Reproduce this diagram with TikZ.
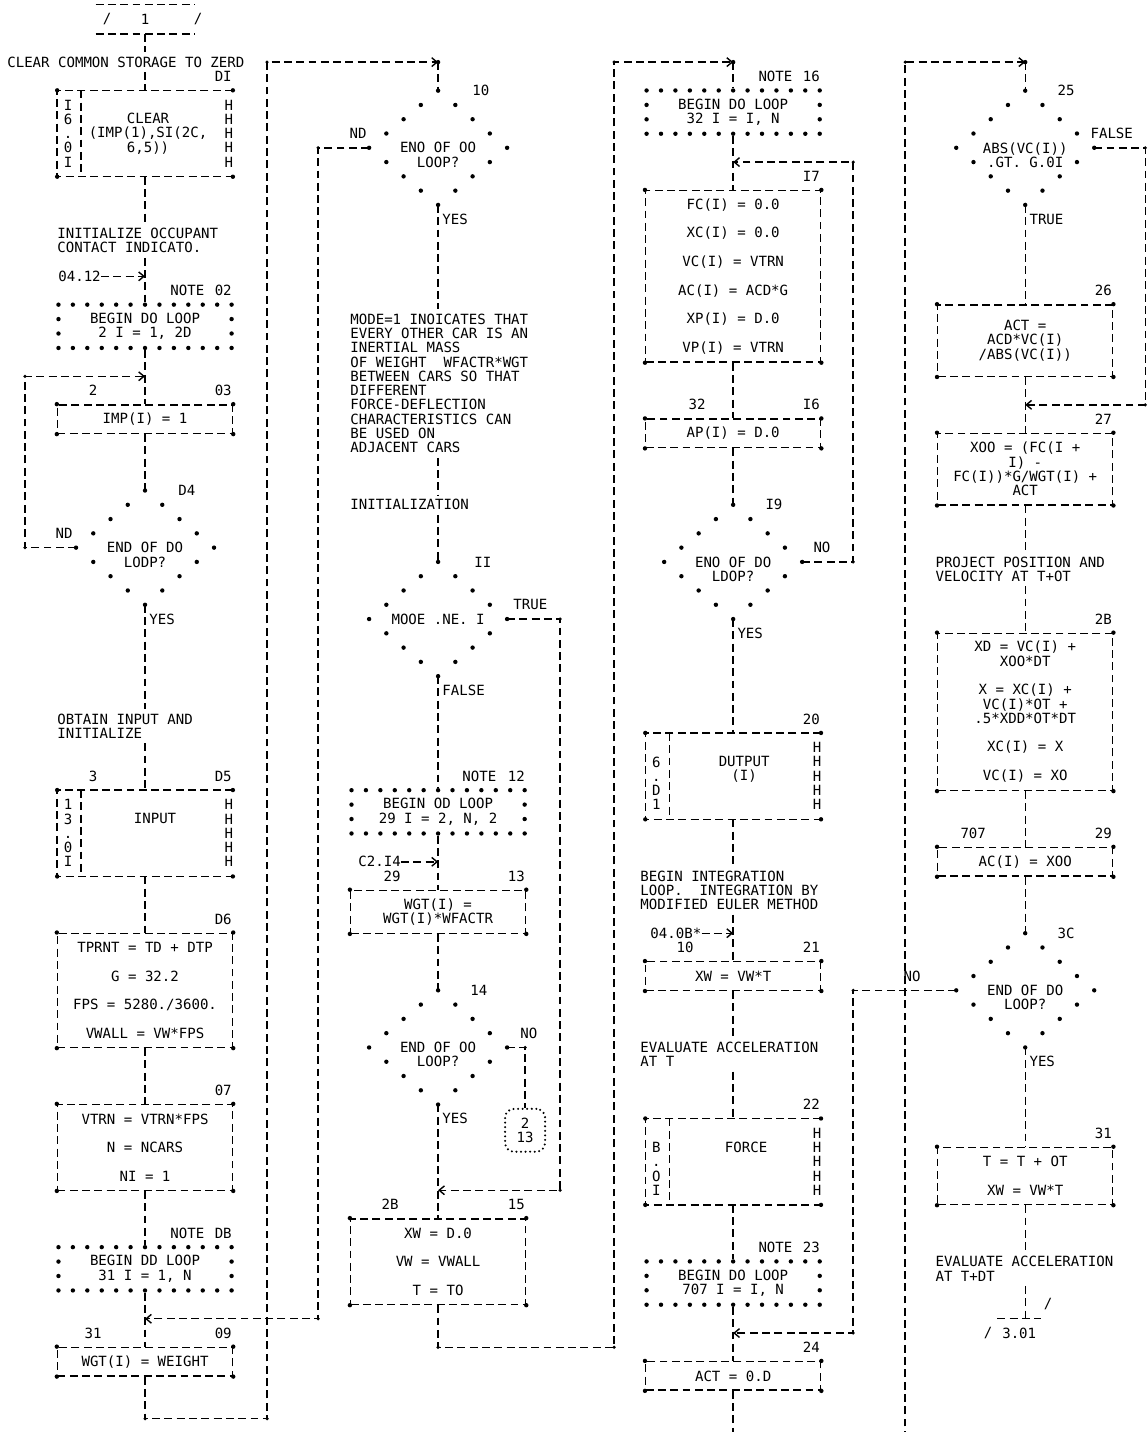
\documentclass[tikz,border=0pt]{standalone}
\usepackage{fontspec}
\setmonofont{DejaVu Sans Mono}
\usetikzlibrary{arrows.meta,shapes.geometric}
\frenchspacing

\begin{document}
\begin{tikzpicture}[x=0.02cm,y=-0.2856cm,>={Straight Barb[length=3pt,width=5pt]},
  font=\ttfamily\fontsize{8}{8.13}\selectfont,
  conn/.style={line width=0.8pt,dash pattern=on 4.5pt off 2.5pt},
  tall/.style={minimum height=#1*0.2856cm},
  box/.style={draw,conn,minimum width=3.5cm,inner sep=0pt,align=center},
  proc/.style={minimum width=3.5cm,inner sep=0pt},
  ptext/.style={align=center,inner sep=0pt},
  note/.style={draw,line width=2.5pt,line cap=round,dash pattern=on 0pt off 0.2886cm,minimum width=3.463cm,minimum height=0.866cm,inner sep=0pt,align=center},
  dec/.style={diamond,draw,line width=2.5pt,line cap=round,dash pattern=on 0pt off 0.4479cm,minimum width=2.76cm,minimum height=2.285cm,inner sep=0pt,outer sep=0pt},
  dtext/.style={align=center,inner sep=0pt,yshift=-0.1428cm},
  annot/.style={align=left,inner xsep=0pt,inner ysep=2.5pt,anchor=west},
  lab/.style={inner sep=0pt}]
\path[use as bounding box] (0,-0.35) rectangle (1147,99.93);
% column 1
\node[lab,minimum width=1.96cm,tall=2] (t1) at (145,1) {1};
\node[lab] (s1) at (107,1) {/};
\node[lab] (s2) at (198,1) {/};
\node[annot] (c1) at (7,4) {CLEAR COMMON STORAGE TO ZERD};
\node[lab,anchor=east] (l01) at (232,5) {DI};
\node[proc,tall=6,label={[ptext,xshift=0.06cm]center:CLEAR\\(IMP(1),SI(2C,\\6,5))}] (p01) at (145,9) {};
\node[annot] (i1) at (57,16.5) {INITIALIZE OCCUPANT\\CONTACT INDICATO.};
\node[annot] (e1) at (58,19) {04.12};
\node[lab,anchor=west] (m02) at (170,20) {NOTE};
\node[lab,anchor=east] (l02) at (232,20) {02};
\node[note] (n02) at (145,22.5) {BEGIN DO LOOP\\2 I = 1, 2D};
\node[lab] (m03) at (93,27) {2};
\node[lab,anchor=east] (l03) at (232,27) {03};
\node[box,tall=2] (b03) at (145,29) {IMP(I) = 1};
\node[dec,label={[dtext]center:END OF DO\\LODP?}] (d4) at (145,38) {};
\node[lab,anchor=west] (l04) at (178,34) {D4};
\node[lab] (y04n) at (64,37) {ND};
\node[lab,anchor=west] (y04) at (149,43) {YES};
\node[annot] (o1) at (57,50.5) {OBTAIN INPUT AND\\INITIALIZE};
\node[lab] (m05) at (93,54) {3};
\node[lab,anchor=east] (l05) at (232,54) {D5};
\node[proc,tall=6,label={[ptext,xshift=0.2cm,yshift=0.2856cm]center:INPUT}] (p05) at (145,58) {};
\node[lab,anchor=east] (l06) at (232,64) {D6};
\node[box,tall=8] (b06) at (145,69) {TPRNT = TD + DTP\\~\\G = 32.2\\~\\FPS = 5280./3600.\\~\\VWALL = VW*FPS};
\node[lab,anchor=east] (l07) at (232,76) {07};
\node[box,tall=6] (b07) at (145,80) {VTRN = VTRN*FPS\\~\\N = NCARS\\~\\NI = 1};
\node[lab,anchor=west] (m08) at (170,86) {NOTE};
\node[lab,anchor=east] (l08) at (232,86) {DB};
\node[note] (n08) at (145,88.5) {BEGIN DD LOOP\\31 I = 1, N};
\node[lab] (m09) at (93,93) {31};
\node[lab,anchor=east] (l09) at (232,93) {09};
\node[box,tall=2] (b09) at (145,95) {WGT(I) = WEIGHT};
% column 2
\node[dec,label={[dtext]center:ENO OF OO\\LOOP?}] (d10) at (438,10) {};
\node[lab,anchor=west] (l10) at (472,6) {10};
\node[lab] (y10n) at (358,9) {ND};
\node[lab,anchor=west] (y10) at (442,15) {YES};
\node[annot] (m1) at (350,26.5) {MODE=1 INOICATES THAT\\EVERY OTHER CAR IS AN\\INERTIAL MASS\\OF WEIGHT~~WFACTR*WGT\\BETWEEN CARS SO THAT\\DIFFERENT\\FORCE-DEFLECTION\\CHARACTERISTICS CAN\\BE USED ON\\ADJACENT CARS};
\node[annot] (m2) at (350,35) {INITIALIZATION};
\node[dec,label={[ptext]center:MOOE .NE. I}] (d11) at (438,43) {};
\node[lab,anchor=west] (l11) at (474,39) {II};
\node[lab,anchor=west] (y11t) at (513,42) {TRUE};
\node[lab,anchor=west] (y11f) at (442,48) {FALSE};
\node[lab,anchor=west] (m12) at (462,54) {NOTE};
\node[lab,anchor=east] (l12) at (525,54) {12};
\node[note] (n12) at (438,56.5) {BEGIN OD LOOP\\29 I = 2, N, 2};
\node[annot] (e2) at (358,60) {C2.I4};
\node[lab] (m13) at (392,61) {29};
\node[lab,anchor=east] (l13) at (525,61) {13};
\node[box,tall=3] (b13) at (438,63.5) {WGT(I) =\\WGT(I)*WFACTR};
\node[dec,label={[dtext]center:END OF OO\\LOOP?}] (d14) at (438,73) {};
\node[lab,anchor=west] (l14) at (470,69) {14};
\node[lab,anchor=west] (y14n) at (520,72) {NO};
\node[lab,anchor=west] (y14) at (442,78) {YES};
\node[draw,line width=1.3pt,line cap=round,dash pattern=on 0pt off 2.6pt,rounded corners=5pt,minimum width=0.8cm,minimum height=0.857cm,inner sep=0pt,align=center] (c213) at (525,78.8) {2\\13};
\node[lab] (m15) at (390,84) {2B};
\node[lab,anchor=east] (l15) at (525,84) {15};
\node[box,tall=6] (b15) at (438,88) {XW = D.0\\~\\VW = VWALL\\~\\T = TO};
% column 3
\node[lab,anchor=west] (m16) at (758,5) {NOTE};
\node[lab,anchor=east] (l16) at (820,5) {16};
\node[note] (n16) at (733,7.5) {BEGIN DO LOOP\\32 I = I, N};
\node[lab,anchor=east] (l17) at (820,12) {I7};
\node[box,tall=12] (b17) at (733,19) {FC(I) = 0.0\\~\\XC(I) = 0.0\\~\\VC(I) = VTRN\\~\\AC(I) = ACD*G\\~\\XP(I) = D.0\\~\\VP(I) = VTRN};
\node[lab] (m18) at (697,28) {32};
\node[lab,anchor=east] (l18) at (820,28) {I6};
\node[box,tall=2] (b16) at (733,30) {AP(I) = D.0};
\node[dec,label={[dtext]center:ENO OF DO\\LDOP?}] (d19) at (733,39) {};
\node[lab,anchor=west] (l19) at (765,35) {I9};
\node[lab,anchor=west] (y19n) at (813,38) {NO};
\node[lab,anchor=west] (y19) at (737,44) {YES};
\node[lab,anchor=east] (l20) at (820,50) {20};
\node[proc,tall=6,label={[ptext,xshift=0.22cm,yshift=0.1428cm]center:DUTPUT\\(I)}] (p20) at (733,54) {};
\node[annot] (a3) at (640,62) {BEGIN INTEGRATION\\LOOP.~~INTEGRATION BY\\MODIFIED EULER METHOD};
\node[annot] (e3) at (650,65) {04.0B*};
\node[lab] (m21) at (685,66) {10};
\node[lab,anchor=east] (l21) at (820,66) {21};
\node[box,tall=2] (b21) at (733,68) {XW = VW*T};
\node[annot] (a4) at (640,73.5) {EVALUATE ACCELERATION\\AT T};
\node[lab,anchor=east] (l22) at (820,77) {22};
\node[proc,tall=6,label={[ptext,xshift=0.26cm,yshift=0.2856cm]center:FORCE}] (p22) at (733,81) {};
\node[lab,anchor=west] (m23) at (758,87) {NOTE};
\node[lab,anchor=east] (l23) at (820,87) {23};
\node[note] (n23) at (733,89.5) {BEGIN DO LOOP\\707 I = I, N};
\node[lab,anchor=east] (l24) at (820,94) {24};
\node[box,tall=2] (b24) at (733,96) {ACT = 0.D};
% column 4
\node[dec,label={[dtext]center:ABS(VC(I))\\.GT. G.0I}] (d25) at (1025,10) {};
\node[lab,anchor=west] (l25) at (1057,6) {25};
\node[lab,anchor=west] (y25f) at (1090,9) {FALSE};
\node[lab,anchor=west] (y25) at (1029,15) {TRUE};
\node[lab,anchor=east] (l26) at (1112,20) {26};
\node[box,tall=5] (b26) at (1025,23.5) {ACT =\\ACD*VC(I)\\/ABS(VC(I))};
\node[lab,anchor=east] (l27) at (1112,29) {27};
\node[box,tall=5] (b27) at (1025,32.5) {XOO = (FC(I +\\I) -\\FC(I))*G/WGT(I) +\\ACT};
\node[annot] (a5) at (935,39.5) {PROJECT POSITION AND\\VELOCITY AT T+OT};
\node[lab,anchor=east] (l28) at (1112,43) {2B};
\node[box,tall=11] (b28) at (1025,49.5) {XD = VC(I) +\\XOO*DT\\~\\X = XC(I) +\\VC(I)*OT +\\.5*XDD*OT*DT\\~\\XC(I) = X\\~\\VC(I) = XO};
\node[lab] (m29) at (973,58) {707};
\node[lab,anchor=east] (l29) at (1112,58) {29};
\node[box,tall=2] (b29) at (1025,60) {AC(I) = XOO};
\node[dec,label={[dtext]center:END OF DO\\LOOP?}] (d30) at (1025,69) {};
\node[lab,anchor=west] (l30) at (1057,65) {3C};
\node[lab,anchor=west] (y30n) at (903,68) {NO};
\node[lab,anchor=west] (y30) at (1029,74) {YES};
\node[lab,anchor=east] (l31) at (1112,79) {31};
\node[box,tall=4] (b31) at (1025,82) {T = T + OT\\~\\XW = VW*T};
\node[annot] (a6) at (935,88.5) {EVALUATE ACCELERATION\\AT T+DT};
\node[lab,minimum width=0.86cm,tall=2] (t301) at (1019,93) {3.01};
\node[lab] (s3) at (988,93) {/};
\node[lab] (s4) at (1048,91) {/};
% box borders
\draw[conn] (t1.north west) -- (t1.north east) (t1.south west) -- (t1.south east);
\draw[conn] (t301.north west) -- (t301.north east);
\foreach \p/\s in {p01/{I\\6\\.\\0\\I},p05/{1\\3\\.\\0\\I},p20/{\phantom{6}\\6\\.\\D\\1},p22/{\phantom{B}\\B\\.\\O\\I}}{
  \draw[conn] (\p.north east) -- (\p.north west) -- (\p.south west) -- (\p.south east);
  \draw[conn] ([xshift=0.48cm]\p.north west) -- ([xshift=0.48cm]\p.south west);
  \node[ptext] (\p-l) at ([xshift=0.22cm]\p.west) {\s};
  \node[ptext] (\p-h) at ([xshift=-0.08cm]\p.east) {H\\H\\H\\H\\H};
}
\foreach \b in {p01,b03,p05,b06,b07,b09,b13,b15,b17,b16,p20,b21,p22,b24,b26,b27,b28,b29,b31}
  \foreach \a in {north west,north east,south west,south east}
    \fill (\b.\a) circle (1.25pt);
% flow, column 1
\draw[conn] (t1.south) -- (t1.south |- c1.north);
\draw[conn] (c1.south -| t1.south) -- (p01.north);
\draw[conn] (p01.south) -- (p01.south |- i1.north);
\draw[conn] (i1.south -| n02.north) -- (n02.north);
\draw[conn,->] (e1) -- (e1 -| n02.north);
\draw[conn] (n02.south) -- (b03.north);
\draw[conn] (b03.south) -- (d4.north);
\draw[conn] (d4.south) -- (d4.south |- o1.north);
\draw[conn] (o1.south -| p05.north) -- (p05.north);
\draw[conn] (p05.south) -- (b06.north);
\draw[conn] (b06.south) -- (b07.north);
\draw[conn] (b07.south) -- (n08.north);
\draw[conn] (n08.south) -- (b09.north);
\coordinate (j03) at (145,26);
\coordinate (r0) at (25,26);
\draw[conn,->] (d4.west) -| (r0) -- (j03);
\coordinate (j09) at (145,92);
\coordinate (r2) at (318,92);
\draw[conn,->] (d10.west) -| (r2) -- (j09);
\coordinate (r1) at (267,99);
\coordinate (k1) at (438,4);
\draw[conn,->] (b09.south) |- (r1) |- (k1);
\draw[conn] (k1) -- (d10.north);
\fill (k1) circle (1.25pt);
% flow, column 2
\draw[conn] (d10.south) -- (d10.south |- m1.north);
\draw[conn] (m1.south -| d10.south) -- (m2.north -| d10.south);
\draw[conn] (m2.south -| d11.north) -- (d11.north);
\draw[conn] (d11.south) -- (n12.north);
\draw[conn] (n12.south) -- (b13.north);
\draw[conn,->] (e2) -- (e2 -| b13.north);
\draw[conn] (b13.south) -- (d14.north);
\draw[conn] (d14.south) -- (b15.north);
\draw[conn] (d14.east) -| (c213.north);
\coordinate (j15) at (438,83);
\coordinate (r4) at (560,83);
\draw[conn,->] (d11.east) -| (r4) -- (j15);
\coordinate (r3) at (614,94);
\coordinate (k3) at (733,4);
\draw[conn,->] (b15.south) |- (r3) |- (k3);
\draw[conn] (k3) -- (n16.north);
\fill (k3) circle (1.25pt);
% flow, column 3
\draw[conn] (n16.south) -- (b17.north);
\draw[conn] (b17.south) -- (b16.north);
\draw[conn] (b16.south) -- (d19.north);
\draw[conn] (d19.south) -- (p20.north);
\draw[conn] (p20.south) -- (p20.south |- a3.north);
\draw[conn] (a3.south -| b21.north) -- (b21.north);
\draw[conn,->] (e3) -- (e3 -| b21.north);
\draw[conn] (b21.south) -- (b21.south |- a4.north);
\draw[conn] (a4.south -| p22.north) -- (p22.north);
\draw[conn] (p22.south) -- (n23.north);
\draw[conn] (n23.south) -- (b24.north);
\coordinate (x3) at (733,100.4);
\draw[conn] (b24.south) -- (x3);
\coordinate (j17) at (733,11);
\coordinate (r5) at (853,11);
\draw[conn,->] (d19.east) -| (r5) -- (j17);
% flow, column 4
\coordinate (x4) at (905,100.4);
\coordinate (k4) at (1025,4);
\draw[conn,->] (x4) |- (k4);
\draw[conn] (k4) -- (d25.north);
\fill (k4) circle (1.25pt);
\draw[conn] (d25.south) -- (b26.north);
\draw[conn] (b26.south) -- (b27.north);
\draw[conn] (b27.south) -- (b27.south |- a5.north);
\draw[conn] (a5.south -| b28.north) -- (b28.north);
\draw[conn] (b28.south) -- (b29.north);
\draw[conn] (b29.south) -- (d30.north);
\draw[conn] (d30.south) -- (b31.north);
\draw[conn] (b31.south) -- (b31.south |- a6.north);
\draw[conn] (a6.south -| d30.south) -- (t301.north -| d30.south);
\coordinate (j27) at (1025,28);
\coordinate (r7) at (1145,28);
\draw[conn,->] (d25.east) -| (r7) -- (j27);
\coordinate (j24) at (733,93);
\coordinate (r6) at (853,93);
\draw[conn,->] (d30.west) -| (r6) -- (j24);
% corner marks of the loops
\foreach \q in {(25,26),(25,38),(318,10),(318,92),(145,99),(267,99),(267,4),(560,43),(560,83),(525,73),(438,94),(614,94),(614,4),(853,39),(853,11),(905,4),(1145,10),(1145,28),(853,69),(853,93)}
  \fill \q circle (1pt);
\end{tikzpicture}
\end{document}
